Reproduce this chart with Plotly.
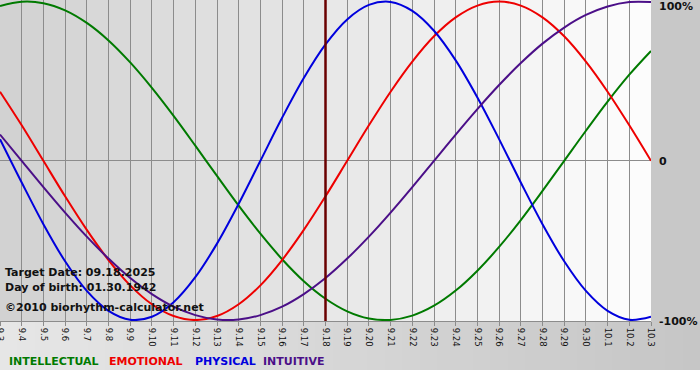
import plotly.graph_objects as go

days = ["9.3", "9.4", "9.5", "9.6", "9.7", "9.8", "9.9", "9.10", "9.11", "9.12",
        "9.13", "9.14", "9.15", "9.16", "9.17", "9.18", "9.19", "9.20", "9.21", "9.22",
        "9.23", "9.24", "9.25", "9.26", "9.27", "9.28", "9.29", "9.30", "10.1", "10.2", "10.3"]

intellectual = [97.2, 99.9, 99.0, 94.5, 86.6, 75.6, 61.8, 45.8, 28.2, 9.5,
                -9.5, -28.2, -45.8, -61.8, -75.6, -86.6, -94.5, -99.0, -99.9, -97.2,
                -91.0, -81.5, -69.0, -54.1, -37.2, -18.9, 0.0, 18.9, 37.2, 54.1, 69.0]
emotional = [43.4, 22.3, 0.0, -22.3, -43.4, -62.3, -78.2, -90.1, -97.5, -100.0,
             -97.5, -90.1, -78.2, -62.3, -43.4, -22.3, 0.0, 22.3, 43.4, 62.3,
             78.2, 90.1, 97.5, 100.0, 97.5, 90.1, 78.2, 62.3, 43.4, 22.3, 0.0]
physical = [13.6, -13.6, -39.8, -63.1, -81.7, -94.2, -99.8, -97.9, -88.8, -73.1,
            -52.0, -27.0, 0.0, 27.0, 52.0, 73.1, 88.8, 97.9, 99.8, 94.2,
            81.7, 63.1, 39.8, 13.6, -13.6, -39.8, -63.1, -81.7, -94.2, -99.8, -97.9]
intuitive = [16.5, 0.0, -16.5, -32.5, -47.6, -61.4, -73.6, -83.7, -91.6, -96.9,
             -99.7, -99.7, -96.9, -91.6, -83.7, -73.6, -61.4, -47.6, -32.5, -16.5,
             0.0, 16.5, 32.5, 47.6, 61.4, 73.6, 83.7, 91.6, 96.9, 99.7, 99.7]

series_names = ["INTELLECTUAL", "EMOTIONAL", "PHYSICAL", "INTUITIVE"]
series_colors = ["#007a00", "#ee0000", "#0000dd", "#4b0f88"]
target_day = "9.18"
info_lines = ["Target Date: 09.18.2025", "Day of birth: 01.30.1942", "\u00a92010 biorhythm-calculator.net"]
axis_labels = ["100%", "0", "-100%"]
axis_label_vals = [100, 0, -100]

W, H = 700, 380
L, R, T, B = 0, 49, 0, 59
pw, ph = W - L - R, H - T - B

fig = go.Figure()
for name, vals, col in zip(series_names, [intellectual, emotional, physical, intuitive], series_colors):
    fig.add_trace(go.Scatter(x=days, y=vals, mode="lines", name=name,
                             line=dict(color=col, width=2, shape="spline", smoothing=1.0),
                             showlegend=False, hoverinfo="skip"))

shapes = []
n = len(days) - 1
for i in range(n):
    g = int(round(210 + (252 - 210) * i / (n - 1)))
    shapes.append(dict(type="rect", xref="x", yref="paper", x0=i, x1=i + 1, y0=0, y1=1,
                       fillcolor=f"rgb({g},{g},{g})", line=dict(width=0), layer="below"))

# bottom band gradient
strips = 40
y_bot = -(370 - ph) / ph
x_right = W / pw
for k in range(strips):
    x0 = x_right * k / strips
    x1 = x_right * (k + 1) / strips + 0.001
    g = int(round(230 - (230 - 198) * k / (strips - 1)))
    shapes.append(dict(type="rect", xref="paper", yref="paper", x0=x0, x1=x1, y0=y_bot, y1=0,
                       fillcolor=f"rgb({g},{g},{g})", line=dict(width=0), layer="below"))
shapes.append(dict(type="rect", xref="paper", yref="paper", x0=1, x1=x_right, y0=0, y1=1.01,
                   fillcolor="rgb(200,200,200)", line=dict(width=0), layer="below"))

ti = days.index(target_day)
fig.add_vline(x=ti, line=dict(color="#6a0000", width=2.5), layer="above")

ann = []
for lab, v in zip(axis_labels, axis_label_vals):
    ann.append(dict(text=f"<b>{lab}</b>", xref="paper", yref="y", x=1, y=v, xanchor="left",
                    yanchor="middle", xshift=6, yshift=(-5 if v == 100 else -1),
                    showarrow=False, font=dict(family="DejaVu Sans", size=11, color="#111111")))

info_px = [272, 287, 307]
for txt, py in zip(info_lines, info_px):
    ann.append(dict(text=f"<b>{txt}</b>", xref="paper", yref="paper", x=3 / pw, y=(ph - py) / ph,
                    xanchor="left", yanchor="middle", showarrow=False,
                    font=dict(family="DejaVu Sans", size=11, color="#111111")))

legend_x = [7, 107, 193, 261]
for name, col, lx in zip(series_names, series_colors, legend_x):
    ann.append(dict(text=f"<b>{name}</b>", xref="paper", yref="paper", x=lx / pw, y=-(362 - ph) / ph,
                    xanchor="left", yanchor="middle", showarrow=False,
                    font=dict(family="DejaVu Sans", size=11, color=col)))

fig.update_layout(
    width=W, height=H,
    margin=dict(l=L, r=R, t=T, b=B, autoexpand=False),
    paper_bgcolor="white", plot_bgcolor="rgba(0,0,0,0)",
    annotations=ann,
    xaxis=dict(type="category", range=[0, n], showgrid=True, gridcolor="#8c8c8c", gridwidth=1,
               tickangle=90, ticks="outside", ticklen=4, tickcolor="#8c8c8c",
               showline=True, linecolor="#8c8c8c", linewidth=1,
               tickfont=dict(family="DejaVu Sans", size=8.5, color="#111111"),
               zeroline=False, fixedrange=True),
    yaxis=dict(range=[-100.6, 101], showgrid=False, zeroline=True, zerolinecolor="#8c8c8c",
               zerolinewidth=1, showticklabels=False, ticks="", fixedrange=True),
)
for s in shapes:
    fig.add_shape(**s)

fig.write_html("out.html", config={"displayModeBar": False},
               post_script="document.body.style.margin='0';document.body.style.overflow='hidden';")
